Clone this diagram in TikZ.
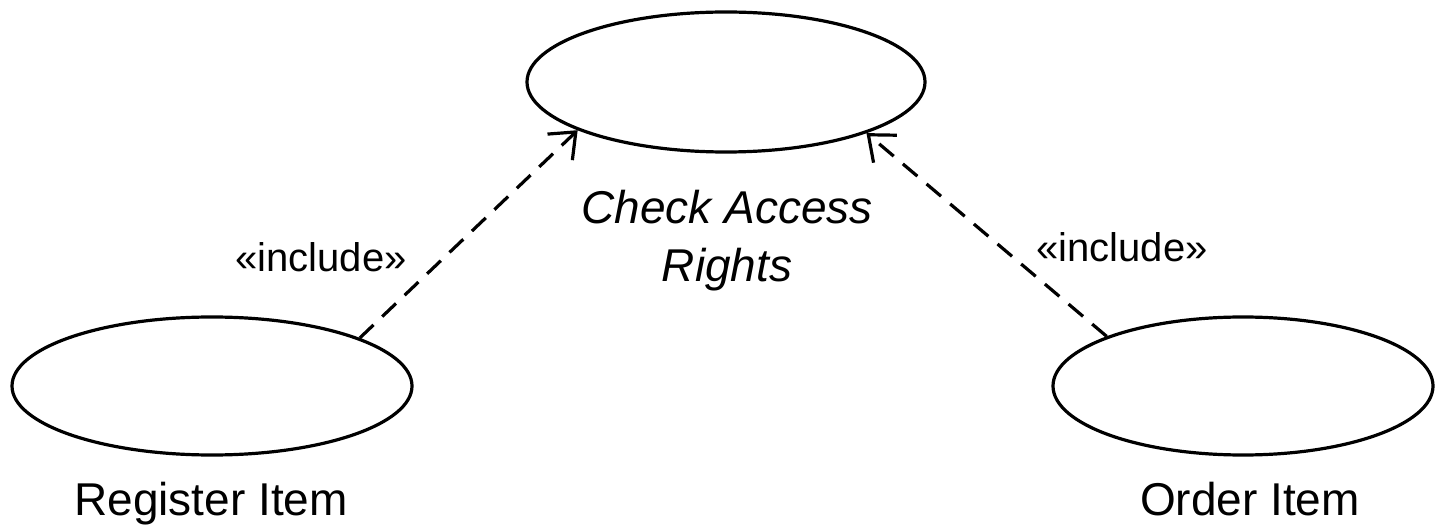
\documentclass[tikz,border=0pt]{standalone}
\usepackage{fontspec}
\setmainfont{Liberation Sans}
\usetikzlibrary{shapes.geometric,arrows.meta}
\begin{document}
\begin{tikzpicture}[x=1pt,y=-1pt,
  usecase/.style={ellipse,draw,line width=3.2pt,inner sep=0pt},
  incl/.style={line width=3.2pt,dash pattern=on 19pt off 12pt,
    -{Straight Barb[length=22pt,width=36pt,line width=3.2pt]}},
  lbl/.style={font=\fontsize{46}{58}\selectfont,inner sep=0pt,anchor=base},
  stereo/.style={font=\fontsize{40}{48}\selectfont,inner sep=0pt,anchor=base}]
\useasboundingbox (0,0) rectangle (1437,526);
\node[usecase,minimum width=398pt,minimum height=140pt] (chk) at (726,82) {};
\node[usecase,minimum width=400pt,minimum height=138pt] (reg) at (212,386) {};
\node[usecase,minimum width=380pt,minimum height=138pt] (ord) at (1243,386) {};
\node[lbl,font=\fontsize{46}{58}\selectfont\itshape,align=center] (chkl) at (727,282) {Check Access\\Rights};
\node[lbl] (regl) at (211,515) {Register Item};
\node[lbl] (ordl) at (1250,515) {Order Item};
\draw[incl] (reg.18.7) -- (chk.198.8);
\draw[incl] (ord.160.2) -- (chk.-20.2);
\node[stereo] (i1) at (321,272) {«include»};
\node[stereo] (i2) at (1122,262) {«include»};
\end{tikzpicture}
\end{document}
